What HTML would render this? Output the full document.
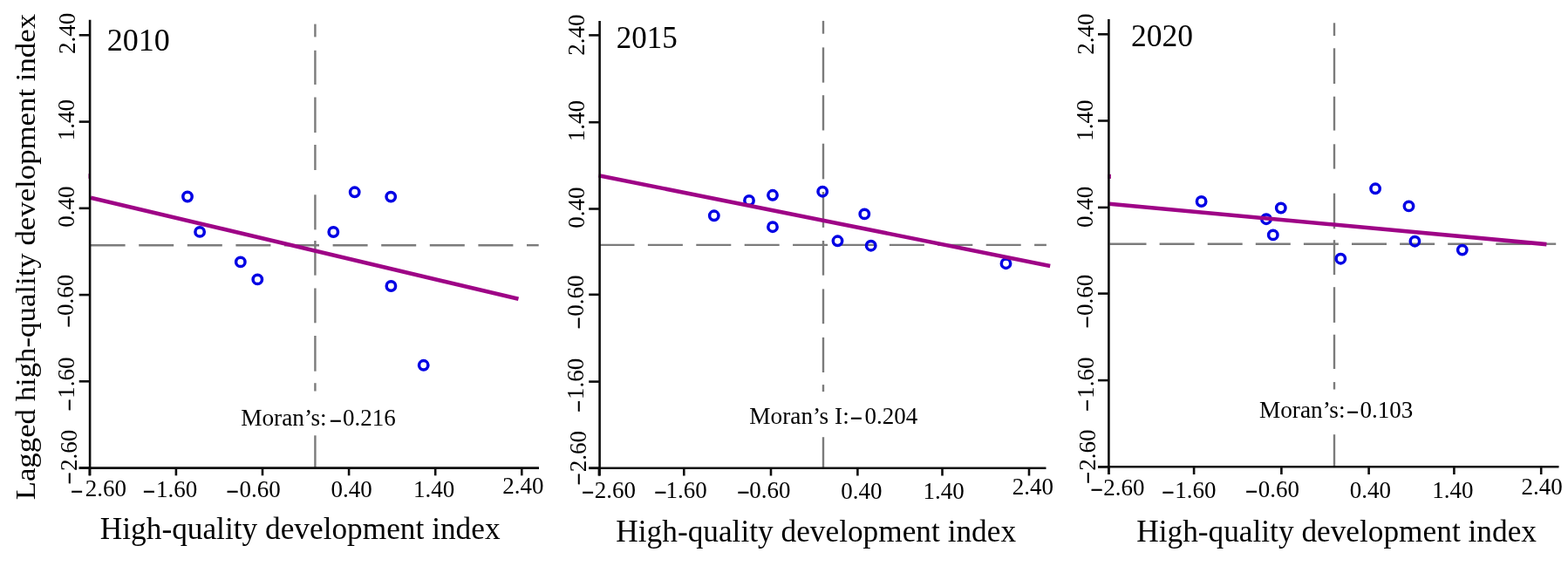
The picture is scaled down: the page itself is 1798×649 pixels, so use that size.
<!DOCTYPE html>
<html lang="en"><head><meta charset="utf-8"><title>Moran scatter plots 2010, 2015, 2020</title>
<style>
html,body{margin:0;padding:0;background:#fff;}
body{width:1798px;height:649px;overflow:hidden;}
svg{display:block;}
text{font-family:"Liberation Serif","Times New Roman",serif;fill:#000;}
</style></head><body>
<svg width="1798" height="649" viewBox="0 0 1798 649">
<rect width="1798" height="649" fill="#fff"/>
<g>
<line x1="103.60" y1="281.20" x2="143.60" y2="281.20" stroke="#7b7b7b" stroke-width="2.4"/>
<line x1="159.20" y1="281.20" x2="199.20" y2="281.20" stroke="#7b7b7b" stroke-width="2.4"/>
<line x1="214.80" y1="281.20" x2="254.80" y2="281.20" stroke="#7b7b7b" stroke-width="2.4"/>
<line x1="270.40" y1="281.20" x2="310.40" y2="281.20" stroke="#7b7b7b" stroke-width="2.4"/>
<line x1="326.00" y1="281.20" x2="366.00" y2="281.20" stroke="#7b7b7b" stroke-width="2.4"/>
<line x1="381.60" y1="281.20" x2="421.60" y2="281.20" stroke="#7b7b7b" stroke-width="2.4"/>
<line x1="437.20" y1="281.20" x2="477.20" y2="281.20" stroke="#7b7b7b" stroke-width="2.4"/>
<line x1="492.80" y1="281.20" x2="532.80" y2="281.20" stroke="#7b7b7b" stroke-width="2.4"/>
<line x1="548.40" y1="281.20" x2="588.40" y2="281.20" stroke="#7b7b7b" stroke-width="2.4"/>
<line x1="604.00" y1="281.20" x2="617.70" y2="281.20" stroke="#7b7b7b" stroke-width="2.4"/>
<line x1="361.40" y1="27.60" x2="361.40" y2="42.40" stroke="#7b7b7b" stroke-width="2.4"/>
<line x1="361.40" y1="57.80" x2="361.40" y2="97.00" stroke="#7b7b7b" stroke-width="2.4"/>
<line x1="361.40" y1="111.50" x2="361.40" y2="152.10" stroke="#7b7b7b" stroke-width="2.4"/>
<line x1="361.40" y1="166.00" x2="361.40" y2="195.00" stroke="#7b7b7b" stroke-width="2.4"/>
<line x1="361.40" y1="223.30" x2="361.40" y2="263.40" stroke="#7b7b7b" stroke-width="2.4"/>
<line x1="361.40" y1="276.00" x2="361.40" y2="315.70" stroke="#7b7b7b" stroke-width="2.4"/>
<line x1="361.40" y1="330.50" x2="361.40" y2="370.30" stroke="#7b7b7b" stroke-width="2.4"/>
<line x1="361.40" y1="385.00" x2="361.40" y2="425.70" stroke="#7b7b7b" stroke-width="2.4"/>
<line x1="361.40" y1="439.20" x2="361.40" y2="448.50" stroke="#7b7b7b" stroke-width="2.4"/>
<line x1="361.40" y1="499.30" x2="361.40" y2="537.00" stroke="#7b7b7b" stroke-width="2.4"/>
<circle cx="215" cy="225.5" r="5.2" fill="none" stroke="#0000e4" stroke-width="3.5"/>
<circle cx="229.1" cy="265.9" r="5.2" fill="none" stroke="#0000e4" stroke-width="3.5"/>
<circle cx="275.8" cy="300.4" r="5.2" fill="none" stroke="#0000e4" stroke-width="3.5"/>
<circle cx="295.3" cy="320.4" r="5.2" fill="none" stroke="#0000e4" stroke-width="3.5"/>
<circle cx="382.3" cy="266" r="5.2" fill="none" stroke="#0000e4" stroke-width="3.5"/>
<circle cx="406.7" cy="220.3" r="5.2" fill="none" stroke="#0000e4" stroke-width="3.5"/>
<circle cx="448.2" cy="225.6" r="5.2" fill="none" stroke="#0000e4" stroke-width="3.5"/>
<circle cx="448.4" cy="328" r="5.2" fill="none" stroke="#0000e4" stroke-width="3.5"/>
<circle cx="485.7" cy="418.8" r="5.2" fill="none" stroke="#0000e4" stroke-width="3.5"/>
<line x1="104.00" y1="226.70" x2="594.50" y2="342.80" stroke="#9e0486" stroke-width="4.6"/>
<rect x="101.5" y="199.2" width="2.5" height="5.6" fill="#9e0486"/>
<line x1="103.10" y1="22.80" x2="103.10" y2="545.30" stroke="#0d0d0d" stroke-width="2.6"/>
<line x1="90.70" y1="536.60" x2="618.00" y2="536.60" stroke="#0d0d0d" stroke-width="2.6"/>
<line x1="90.70" y1="40.30" x2="103.10" y2="40.30" stroke="#0d0d0d" stroke-width="2.6"/>
<line x1="90.70" y1="139.60" x2="103.10" y2="139.60" stroke="#0d0d0d" stroke-width="2.6"/>
<line x1="90.70" y1="238.80" x2="103.10" y2="238.80" stroke="#0d0d0d" stroke-width="2.6"/>
<line x1="90.70" y1="338.10" x2="103.10" y2="338.10" stroke="#0d0d0d" stroke-width="2.6"/>
<line x1="90.70" y1="437.30" x2="103.10" y2="437.30" stroke="#0d0d0d" stroke-width="2.6"/>
<line x1="90.70" y1="536.60" x2="103.10" y2="536.60" stroke="#0d0d0d" stroke-width="2.6"/>
<line x1="102.80" y1="536.60" x2="102.80" y2="545.30" stroke="#0d0d0d" stroke-width="2.6"/>
<line x1="201.90" y1="536.60" x2="201.90" y2="545.30" stroke="#0d0d0d" stroke-width="2.6"/>
<line x1="301.00" y1="536.60" x2="301.00" y2="545.30" stroke="#0d0d0d" stroke-width="2.6"/>
<line x1="400.10" y1="536.60" x2="400.10" y2="545.30" stroke="#0d0d0d" stroke-width="2.6"/>
<line x1="499.20" y1="536.60" x2="499.20" y2="545.30" stroke="#0d0d0d" stroke-width="2.6"/>
<line x1="598.30" y1="536.60" x2="598.30" y2="545.30" stroke="#0d0d0d" stroke-width="2.6"/>
<text transform="translate(86.00,0) rotate(-90)" font-size="27"><tspan x="-61.99" y="0">2.40</tspan></text>
<text transform="translate(84.70,0) rotate(-90)" font-size="27"><tspan x="-161.16" y="0">1.40</tspan></text>
<text transform="translate(84.70,0) rotate(-90)" font-size="27"><tspan x="-260.68" y="0">0.40</tspan></text>
<text transform="translate(84.00,0) rotate(-90)" font-size="27"><tspan x="-375.77" y="3.20" font-size="25" font-weight="bold" stroke="#000" stroke-width="0.35">−</tspan><tspan x="-361.92" y="0">0.60</tspan></text>
<text transform="translate(85.00,0) rotate(-90)" font-size="27"><tspan x="-471.38" y="2.50" font-size="25" font-weight="bold" stroke="#000" stroke-width="0.35">−</tspan><tspan x="-456.81" y="0">1.60</tspan></text>
<text transform="translate(87.90,0) rotate(-90)" font-size="27"><tspan x="-555.38" y="-0.30" font-size="25" font-weight="bold" stroke="#000" stroke-width="0.35">−</tspan><tspan x="-539.99" y="0">2.60</tspan></text>
<text font-size="27"><tspan x="81.03" y="571.50" font-size="25" font-weight="bold" stroke="#000" stroke-width="0.35">−</tspan><tspan x="97.75" y="569.30">2.60</tspan></text>
<text font-size="27"><tspan x="163.82" y="571.70" font-size="25" font-weight="bold" stroke="#000" stroke-width="0.35">−</tspan><tspan x="179.05" y="569.50">1.60</tspan></text>
<text font-size="27"><tspan x="259.62" y="571.70" font-size="25" font-weight="bold" stroke="#000" stroke-width="0.35">−</tspan><tspan x="274.45" y="569.50">0.60</tspan></text>
<text x="379.43" y="569.80" font-size="27">0.40</text>
<text x="474.09" y="569.80" font-size="27">1.40</text>
<text x="576.21" y="565.70" font-size="27">2.40</text>
<text x="122.78" y="58.40" font-size="36">2010</text>
<text font-size="27"><tspan x="276.15" y="488.3" font-size="27.3">Moran’s:</tspan><tspan x="377.82" y="490.60" font-size="25" font-weight="bold" stroke="#000" stroke-width="0.35">−</tspan><tspan x="392.90" y="488.3">0.216</tspan></text>
<text x="114.80" y="618.30" font-size="35.3">High-quality development index</text>
</g>
<g>
<line x1="687.50" y1="280.90" x2="727.50" y2="280.90" stroke="#7b7b7b" stroke-width="2.4"/>
<line x1="742.90" y1="280.90" x2="782.90" y2="280.90" stroke="#7b7b7b" stroke-width="2.4"/>
<line x1="798.30" y1="280.90" x2="838.30" y2="280.90" stroke="#7b7b7b" stroke-width="2.4"/>
<line x1="853.70" y1="280.90" x2="893.70" y2="280.90" stroke="#7b7b7b" stroke-width="2.4"/>
<line x1="909.10" y1="280.90" x2="949.10" y2="280.90" stroke="#7b7b7b" stroke-width="2.4"/>
<line x1="964.50" y1="280.90" x2="1004.50" y2="280.90" stroke="#7b7b7b" stroke-width="2.4"/>
<line x1="1019.90" y1="280.90" x2="1059.90" y2="280.90" stroke="#7b7b7b" stroke-width="2.4"/>
<line x1="1075.30" y1="280.90" x2="1115.30" y2="280.90" stroke="#7b7b7b" stroke-width="2.4"/>
<line x1="1130.70" y1="280.90" x2="1170.70" y2="280.90" stroke="#7b7b7b" stroke-width="2.4"/>
<line x1="1186.10" y1="280.90" x2="1199.90" y2="280.90" stroke="#7b7b7b" stroke-width="2.4"/>
<line x1="944.00" y1="23.90" x2="944.00" y2="38.70" stroke="#7b7b7b" stroke-width="2.4"/>
<line x1="944.00" y1="54.40" x2="944.00" y2="94.70" stroke="#7b7b7b" stroke-width="2.4"/>
<line x1="944.00" y1="109.20" x2="944.00" y2="149.50" stroke="#7b7b7b" stroke-width="2.4"/>
<line x1="944.00" y1="164.70" x2="944.00" y2="205.40" stroke="#7b7b7b" stroke-width="2.4"/>
<line x1="944.00" y1="220.00" x2="944.00" y2="260.90" stroke="#7b7b7b" stroke-width="2.4"/>
<line x1="944.00" y1="276.00" x2="944.00" y2="315.70" stroke="#7b7b7b" stroke-width="2.4"/>
<line x1="944.00" y1="331.40" x2="944.00" y2="371.20" stroke="#7b7b7b" stroke-width="2.4"/>
<line x1="944.00" y1="386.90" x2="944.00" y2="427.00" stroke="#7b7b7b" stroke-width="2.4"/>
<line x1="944.00" y1="441.10" x2="944.00" y2="449.10" stroke="#7b7b7b" stroke-width="2.4"/>
<line x1="944.00" y1="501.20" x2="944.00" y2="537.50" stroke="#7b7b7b" stroke-width="2.4"/>
<circle cx="818.8" cy="247.3" r="5.2" fill="none" stroke="#0000e4" stroke-width="3.5"/>
<circle cx="859" cy="230" r="5.2" fill="none" stroke="#0000e4" stroke-width="3.5"/>
<circle cx="886" cy="223.8" r="5.2" fill="none" stroke="#0000e4" stroke-width="3.5"/>
<circle cx="886" cy="260.2" r="5.2" fill="none" stroke="#0000e4" stroke-width="3.5"/>
<circle cx="943.2" cy="219.7" r="5.2" fill="none" stroke="#0000e4" stroke-width="3.5"/>
<circle cx="991.3" cy="245.4" r="5.2" fill="none" stroke="#0000e4" stroke-width="3.5"/>
<circle cx="960.5" cy="276.3" r="5.2" fill="none" stroke="#0000e4" stroke-width="3.5"/>
<circle cx="998.7" cy="281.7" r="5.2" fill="none" stroke="#0000e4" stroke-width="3.5"/>
<circle cx="1153.5" cy="302.2" r="5.2" fill="none" stroke="#0000e4" stroke-width="3.5"/>
<line x1="686.50" y1="201.20" x2="1204.20" y2="305.00" stroke="#9e0486" stroke-width="4.6"/>
<line x1="687.60" y1="24.00" x2="687.60" y2="545.50" stroke="#0d0d0d" stroke-width="2.6"/>
<line x1="675.20" y1="536.80" x2="1199.50" y2="536.80" stroke="#0d0d0d" stroke-width="2.6"/>
<line x1="675.20" y1="40.40" x2="687.60" y2="40.40" stroke="#0d0d0d" stroke-width="2.6"/>
<line x1="675.20" y1="140.20" x2="687.60" y2="140.20" stroke="#0d0d0d" stroke-width="2.6"/>
<line x1="675.20" y1="239.50" x2="687.60" y2="239.50" stroke="#0d0d0d" stroke-width="2.6"/>
<line x1="675.20" y1="337.80" x2="687.60" y2="337.80" stroke="#0d0d0d" stroke-width="2.6"/>
<line x1="675.20" y1="437.60" x2="687.60" y2="437.60" stroke="#0d0d0d" stroke-width="2.6"/>
<line x1="675.20" y1="536.80" x2="687.60" y2="536.80" stroke="#0d0d0d" stroke-width="2.6"/>
<line x1="686.90" y1="536.80" x2="686.90" y2="545.50" stroke="#0d0d0d" stroke-width="2.6"/>
<line x1="784.30" y1="536.80" x2="784.30" y2="545.50" stroke="#0d0d0d" stroke-width="2.6"/>
<line x1="884.00" y1="536.80" x2="884.00" y2="545.50" stroke="#0d0d0d" stroke-width="2.6"/>
<line x1="983.40" y1="536.80" x2="983.40" y2="545.50" stroke="#0d0d0d" stroke-width="2.6"/>
<line x1="1080.50" y1="536.80" x2="1080.50" y2="545.50" stroke="#0d0d0d" stroke-width="2.6"/>
<line x1="1180.00" y1="536.80" x2="1180.00" y2="545.50" stroke="#0d0d0d" stroke-width="2.6"/>
<text transform="translate(670.00,0) rotate(-90)" font-size="27"><tspan x="-63.84" y="0">2.40</tspan></text>
<text transform="translate(669.60,0) rotate(-90)" font-size="27"><tspan x="-162.31" y="0">1.40</tspan></text>
<text transform="translate(669.60,0) rotate(-90)" font-size="27"><tspan x="-261.68" y="0">0.40</tspan></text>
<text transform="translate(668.90,0) rotate(-90)" font-size="27"><tspan x="-377.38" y="3.10" font-size="25" font-weight="bold" stroke="#000" stroke-width="0.35">−</tspan><tspan x="-362.73" y="0">0.60</tspan></text>
<text transform="translate(669.40,0) rotate(-90)" font-size="27"><tspan x="-472.98" y="2.60" font-size="25" font-weight="bold" stroke="#000" stroke-width="0.35">−</tspan><tspan x="-457.91" y="0">1.60</tspan></text>
<text transform="translate(672.10,0) rotate(-90)" font-size="27"><tspan x="-556.48" y="-0.10" font-size="25" font-weight="bold" stroke="#000" stroke-width="0.35">−</tspan><tspan x="-541.34" y="0">2.60</tspan></text>
<text font-size="27"><tspan x="666.92" y="573.00" font-size="25" font-weight="bold" stroke="#000" stroke-width="0.35">−</tspan><tspan x="681.75" y="570.80">2.60</tspan></text>
<text font-size="27"><tspan x="750.33" y="573.00" font-size="25" font-weight="bold" stroke="#000" stroke-width="0.35">−</tspan><tspan x="763.55" y="570.80">1.60</tspan></text>
<text font-size="27"><tspan x="845.33" y="573.00" font-size="25" font-weight="bold" stroke="#000" stroke-width="0.35">−</tspan><tspan x="859.35" y="570.80">0.60</tspan></text>
<text x="964.17" y="571.50" font-size="27">0.40</text>
<text x="1058.44" y="571.50" font-size="27">1.40</text>
<text x="1160.76" y="567.40" font-size="27">2.40</text>
<text x="706.70" y="54.60" font-size="35">2015</text>
<text font-size="27"><tspan x="859.25" y="486.1" font-size="27.3">Moran’s I:</tspan><tspan x="974.83" y="487.90" font-size="25" font-weight="bold" stroke="#000" stroke-width="0.35">−</tspan><tspan x="991.60" y="486.1">0.204</tspan></text>
<text x="706.30" y="621.00" font-size="35.3">High-quality development index</text>
</g>
<g>
<line x1="1272.50" y1="279.70" x2="1314.50" y2="279.70" stroke="#7b7b7b" stroke-width="2.4"/>
<line x1="1329.60" y1="279.70" x2="1369.60" y2="279.70" stroke="#7b7b7b" stroke-width="2.4"/>
<line x1="1384.70" y1="279.70" x2="1424.70" y2="279.70" stroke="#7b7b7b" stroke-width="2.4"/>
<line x1="1439.80" y1="279.70" x2="1479.80" y2="279.70" stroke="#7b7b7b" stroke-width="2.4"/>
<line x1="1494.90" y1="279.70" x2="1534.90" y2="279.70" stroke="#7b7b7b" stroke-width="2.4"/>
<line x1="1550.00" y1="279.70" x2="1590.00" y2="279.70" stroke="#7b7b7b" stroke-width="2.4"/>
<line x1="1605.10" y1="279.70" x2="1645.10" y2="279.70" stroke="#7b7b7b" stroke-width="2.4"/>
<line x1="1660.20" y1="279.70" x2="1700.20" y2="279.70" stroke="#7b7b7b" stroke-width="2.4"/>
<line x1="1715.30" y1="279.70" x2="1755.30" y2="279.70" stroke="#7b7b7b" stroke-width="2.4"/>
<line x1="1770.40" y1="279.70" x2="1784.20" y2="279.70" stroke="#7b7b7b" stroke-width="2.4"/>
<line x1="1530.00" y1="26.30" x2="1530.00" y2="41.10" stroke="#7b7b7b" stroke-width="2.4"/>
<line x1="1530.00" y1="55.30" x2="1530.00" y2="96.00" stroke="#7b7b7b" stroke-width="2.4"/>
<line x1="1530.00" y1="110.70" x2="1530.00" y2="149.60" stroke="#7b7b7b" stroke-width="2.4"/>
<line x1="1530.00" y1="165.30" x2="1530.00" y2="193.60" stroke="#7b7b7b" stroke-width="2.4"/>
<line x1="1530.00" y1="221.70" x2="1530.00" y2="262.30" stroke="#7b7b7b" stroke-width="2.4"/>
<line x1="1530.00" y1="275.20" x2="1530.00" y2="315.10" stroke="#7b7b7b" stroke-width="2.4"/>
<line x1="1530.00" y1="329.20" x2="1530.00" y2="369.90" stroke="#7b7b7b" stroke-width="2.4"/>
<line x1="1530.00" y1="383.70" x2="1530.00" y2="423.00" stroke="#7b7b7b" stroke-width="2.4"/>
<line x1="1530.00" y1="438.10" x2="1530.00" y2="446.50" stroke="#7b7b7b" stroke-width="2.4"/>
<line x1="1530.00" y1="498.20" x2="1530.00" y2="536.00" stroke="#7b7b7b" stroke-width="2.4"/>
<circle cx="1377.6" cy="231" r="5.2" fill="none" stroke="#0000e4" stroke-width="3.5"/>
<circle cx="1452" cy="251.2" r="5.2" fill="none" stroke="#0000e4" stroke-width="3.5"/>
<circle cx="1468.8" cy="238.5" r="5.2" fill="none" stroke="#0000e4" stroke-width="3.5"/>
<circle cx="1459.8" cy="269.4" r="5.2" fill="none" stroke="#0000e4" stroke-width="3.5"/>
<circle cx="1537.3" cy="296.7" r="5.2" fill="none" stroke="#0000e4" stroke-width="3.5"/>
<circle cx="1577.1" cy="216.3" r="5.2" fill="none" stroke="#0000e4" stroke-width="3.5"/>
<circle cx="1615.5" cy="236.4" r="5.2" fill="none" stroke="#0000e4" stroke-width="3.5"/>
<circle cx="1622.4" cy="276.7" r="5.2" fill="none" stroke="#0000e4" stroke-width="3.5"/>
<circle cx="1676.8" cy="286.6" r="5.2" fill="none" stroke="#0000e4" stroke-width="3.5"/>
<line x1="1272.00" y1="233.70" x2="1773.40" y2="280.10" stroke="#9e0486" stroke-width="4.6"/>
<rect x="1270.2" y="199.8" width="3.7" height="5.1" fill="#9e0486"/>
<line x1="1271.40" y1="22.00" x2="1271.40" y2="544.00" stroke="#0d0d0d" stroke-width="2.6"/>
<line x1="1259.00" y1="535.30" x2="1787.50" y2="535.30" stroke="#0d0d0d" stroke-width="2.6"/>
<line x1="1259.00" y1="39.30" x2="1271.40" y2="39.30" stroke="#0d0d0d" stroke-width="2.6"/>
<line x1="1259.00" y1="138.50" x2="1271.40" y2="138.50" stroke="#0d0d0d" stroke-width="2.6"/>
<line x1="1259.00" y1="237.90" x2="1271.40" y2="237.90" stroke="#0d0d0d" stroke-width="2.6"/>
<line x1="1259.00" y1="336.60" x2="1271.40" y2="336.60" stroke="#0d0d0d" stroke-width="2.6"/>
<line x1="1259.00" y1="436.10" x2="1271.40" y2="436.10" stroke="#0d0d0d" stroke-width="2.6"/>
<line x1="1259.00" y1="535.30" x2="1271.40" y2="535.30" stroke="#0d0d0d" stroke-width="2.6"/>
<line x1="1271.30" y1="535.30" x2="1271.30" y2="544.00" stroke="#0d0d0d" stroke-width="2.6"/>
<line x1="1369.10" y1="535.30" x2="1369.10" y2="544.00" stroke="#0d0d0d" stroke-width="2.6"/>
<line x1="1469.40" y1="535.30" x2="1469.40" y2="544.00" stroke="#0d0d0d" stroke-width="2.6"/>
<line x1="1569.60" y1="535.30" x2="1569.60" y2="544.00" stroke="#0d0d0d" stroke-width="2.6"/>
<line x1="1667.40" y1="535.30" x2="1667.40" y2="544.00" stroke="#0d0d0d" stroke-width="2.6"/>
<line x1="1767.20" y1="535.30" x2="1767.20" y2="544.00" stroke="#0d0d0d" stroke-width="2.6"/>
<text transform="translate(1254.00,0) rotate(-90)" font-size="27"><tspan x="-62.69" y="0">2.40</tspan></text>
<text transform="translate(1253.00,0) rotate(-90)" font-size="27"><tspan x="-161.81" y="0">1.40</tspan></text>
<text transform="translate(1253.20,0) rotate(-90)" font-size="27"><tspan x="-260.93" y="0">0.40</tspan></text>
<text transform="translate(1253.00,0) rotate(-90)" font-size="27"><tspan x="-376.38" y="2.30" font-size="25" font-weight="bold" stroke="#000" stroke-width="0.35">−</tspan><tspan x="-361.92" y="0">0.60</tspan></text>
<text transform="translate(1253.50,0) rotate(-90)" font-size="27"><tspan x="-471.88" y="1.80" font-size="25" font-weight="bold" stroke="#000" stroke-width="0.35">−</tspan><tspan x="-456.81" y="0">1.60</tspan></text>
<text transform="translate(1256.20,0) rotate(-90)" font-size="27"><tspan x="-554.88" y="-0.60" font-size="25" font-weight="bold" stroke="#000" stroke-width="0.35">−</tspan><tspan x="-539.74" y="0">2.60</tspan></text>
<text font-size="27"><tspan x="1250.53" y="569.70" font-size="25" font-weight="bold" stroke="#000" stroke-width="0.35">−</tspan><tspan x="1265.35" y="567.50">2.60</tspan></text>
<text font-size="27"><tspan x="1332.33" y="572.80" font-size="25" font-weight="bold" stroke="#000" stroke-width="0.35">−</tspan><tspan x="1347.15" y="570.60">1.60</tspan></text>
<text font-size="27"><tspan x="1428.12" y="572.40" font-size="25" font-weight="bold" stroke="#000" stroke-width="0.35">−</tspan><tspan x="1442.85" y="570.20">0.60</tspan></text>
<text x="1547.68" y="571.40" font-size="27">0.40</text>
<text x="1642.24" y="571.40" font-size="27">1.40</text>
<text x="1744.41" y="567.40" font-size="27">2.40</text>
<text x="1297.10" y="53.20" font-size="35.5">2020</text>
<text font-size="27"><tspan x="1443.95" y="479.4" font-size="27.3">Moran’s:</tspan><tspan x="1544.03" y="480.90" font-size="25" font-weight="bold" stroke="#000" stroke-width="0.35">−</tspan><tspan x="1559.40" y="479.4">0.103</tspan></text>
<text x="1303.20" y="621.00" font-size="35.3">High-quality development index</text>
</g>
<text transform="translate(40.3,573.35) rotate(-90) scale(1,0.93)" font-size="34.8">Lagged high-quality development index</text>
</svg>
</body></html>
